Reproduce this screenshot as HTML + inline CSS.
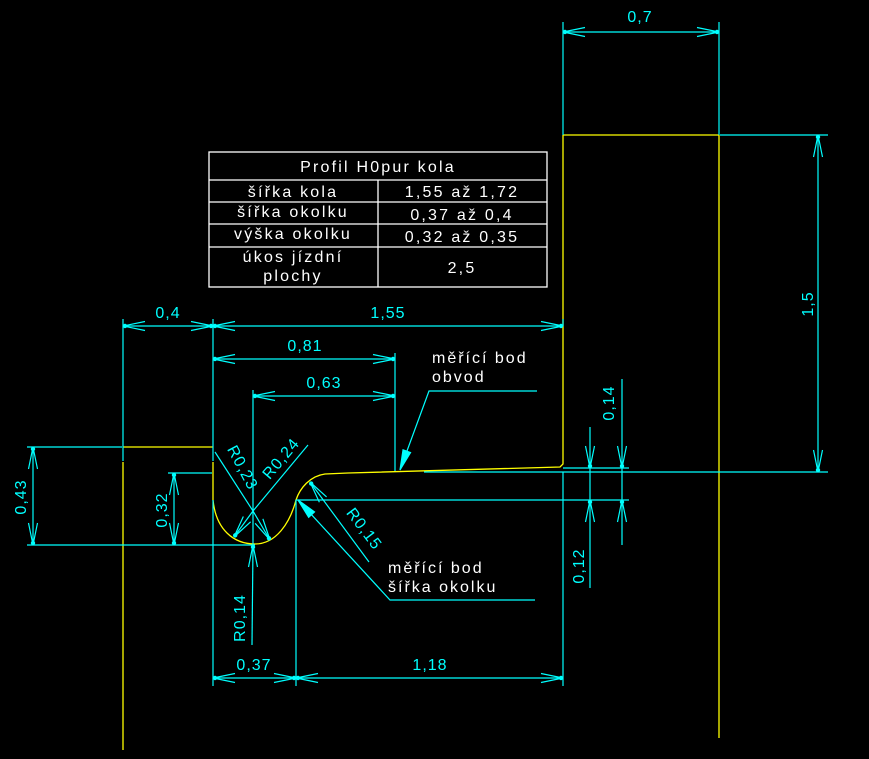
<!DOCTYPE html>
<html><head><meta charset="utf-8">
<style>
html,body{margin:0;padding:0;background:#000;width:869px;height:759px;overflow:hidden}
svg{display:block}
text{font-family:"Liberation Sans",sans-serif}
</style></head>
<body>
<svg id="s" width="869" height="759" viewBox="0 0 869 759" xmlns="http://www.w3.org/2000/svg">
<g stroke="#ffff00" stroke-width="1.3" fill="none">
<line x1="123" y1="462" x2="123" y2="750"/>
<line x1="123" y1="447" x2="213" y2="447"/>
<line x1="719" y1="135" x2="719" y2="738"/>
<line x1="563" y1="135" x2="719" y2="135"/>
<path d="M213 462 L213 500 C216 530 234 544 255 544 C276 544 290 523 296 500 C300 488 310 476 325 474 L348 473 L560 467 L563 464 L563 135"/>
</g>
<g stroke="#ffffff" stroke-width="1.3" fill="none">
<rect x="209" y="152" width="338" height="135"/>
<line x1="209" y1="180" x2="547" y2="180"/>
<line x1="209" y1="202" x2="547" y2="202"/>
<line x1="209" y1="224" x2="547" y2="224"/>
<line x1="209" y1="247" x2="547" y2="247"/>
<line x1="378" y1="180" x2="378" y2="287"/>
</g>
<g fill="#fff" font-size="16" text-anchor="middle" letter-spacing="2.2">
<text x="378" y="172">Profil H0pur kola</text>
<text x="293" y="197">šířka kola</text>
<text x="462" y="197">1,55 až 1,72</text>
<text x="293" y="217">šířka okolku</text>
<text x="462" y="220">0,37 až 0,4</text>
<text x="293" y="239">výška okolku</text>
<text x="462" y="242">0,32 až 0,35</text>
<text x="293" y="262">úkos jízdní</text>
<text x="293" y="281">plochy</text>
<text x="462" y="273">2,5</text>
</g>
<g fill="#fff" font-size="16" letter-spacing="2">
<text x="432" y="363">měřící bod</text>
<text x="432" y="382">obvod</text>
<text x="388" y="573">měřící bod</text>
<text x="388" y="592">šířka okolku</text>
</g>
<g id="c" stroke="#00ffff" stroke-width="1.2" fill="none">
<line x1="563" y1="22" x2="563" y2="135"/>
<line x1="719" y1="22" x2="719" y2="135"/>
<line x1="563" y1="32" x2="719" y2="32"/>
<line x1="720" y1="135" x2="828" y2="135"/>
<line x1="424" y1="472" x2="828" y2="472"/>
<line x1="818" y1="135" x2="818" y2="472"/>
<line x1="123" y1="319" x2="123" y2="461"/>
<line x1="213" y1="319" x2="213" y2="461"/>
<line x1="213" y1="500" x2="213" y2="686"/>
<line x1="123" y1="326" x2="563" y2="326"/>
<line x1="563" y1="319" x2="563" y2="326"/>
<line x1="213" y1="359" x2="395" y2="359"/>
<line x1="395" y1="353" x2="395" y2="471"/>
<line x1="253" y1="396" x2="395" y2="396"/>
<line x1="253" y1="390" x2="253" y2="545"/>
<line x1="27" y1="447" x2="122" y2="447"/>
<line x1="27" y1="545" x2="255" y2="545"/>
<line x1="33" y1="447" x2="33" y2="545"/>
<line x1="168" y1="473" x2="212" y2="473"/>
<line x1="174" y1="473" x2="174" y2="545"/>
<line x1="215" y1="452" x2="253" y2="511"/>
<line x1="308" y1="445" x2="253" y2="511"/>
<line x1="253" y1="511" x2="234" y2="537"/>
<line x1="253" y1="511" x2="270" y2="540"/>
<line x1="310" y1="482" x2="369" y2="562"/>
<line x1="253" y1="545" x2="252" y2="645"/>
<line x1="296" y1="500" x2="296" y2="686"/>
<line x1="296" y1="500" x2="629" y2="500"/>
<line x1="563" y1="468" x2="629" y2="468"/>
<line x1="563" y1="472" x2="563" y2="686"/>
<line x1="213" y1="678" x2="563" y2="678"/>
<line x1="590" y1="427" x2="590" y2="588"/>
<line x1="622" y1="379" x2="622" y2="545"/>
<polyline points="400,470 429,391 537,391"/>
<polyline points="298,500 390,600 535,600"/>
</g>
<g fill="#00ffff" font-size="16" text-anchor="middle" letter-spacing="1">
<text x="640" y="22">0,7</text>
<text x="168" y="318">0,4</text>
<text x="388" y="318">1,55</text>
<text x="305" y="351">0,81</text>
<text x="324" y="388">0,63</text>
<text x="254" y="670">0,37</text>
<text x="430" y="670">1,18</text>
<text transform="translate(813,304) rotate(-90)">1,5</text>
<text transform="translate(26,497) rotate(-90)">0,43</text>
<text transform="translate(167,510) rotate(-90)">0,32</text>
<text transform="translate(245,618) rotate(-90)">R0,14</text>
<text transform="translate(614,403) rotate(-90)">0,14</text>
<text transform="translate(584,566) rotate(-90)">0,12</text>
<text transform="translate(238,470) rotate(62)">R0,23</text>
<text transform="translate(285,462) rotate(-50)">R0,24</text>
<text transform="translate(360,532) rotate(53)">R0,15</text>
</g>
</svg>
<script>
var s=document.getElementById('c');var NS='http://www.w3.org/2000/svg';
function ar(x,y,dx,dy){var L=22,W=4.5;var bx=x-dx*L,by=y-dy*L,px=-dy*W,py=dx*W;
var p=document.createElementNS(NS,'polyline');
p.setAttribute('points',(bx+px)+','+(by+py)+' '+x+','+y+' '+(bx-px)+','+(by-py));s.appendChild(p);
var r=document.createElementNS(NS,'circle');r.setAttribute('cx',x-dx*2);r.setAttribute('cy',y-dy*2);r.setAttribute('r',1.6);r.setAttribute('fill','#00ffff');s.appendChild(r);}
function h(y,a,b){ar(a,y,-1,0);ar(b,y,1,0);}
function v(x,a,b){ar(x,a,0,-1);ar(x,b,0,1);}
h(32,563,719);h(326,123,213);h(326,213,563);h(359,213,395);h(396,253,395);h(678,213,296);h(678,296,563);
v(818,135,472);v(33,447,545);v(174,473,545);
ar(590,468,0,1);ar(590,500,0,-1);ar(622,468,0,1);ar(622,500,0,-1);
ar(253,545,0,-1);
ar(234,537,-0.59,0.81);ar(270,540,0.5,0.86);ar(310,482,-0.59,-0.8);
function fa(x,y,dx,dy){var L=20,W=4;var bx=x-dx*L,by=y-dy*L;var p=document.createElementNS(NS,'polygon');
p.setAttribute('points',x+','+y+' '+(bx-dy*W)+','+(by+dx*W)+' '+(bx+dy*W)+','+(by-dx*W));p.setAttribute('fill','#00ffff');s.appendChild(p);}
fa(400,470,-0.34,0.94);fa(298,500,-0.68,-0.73);
</script>
</body></html>
